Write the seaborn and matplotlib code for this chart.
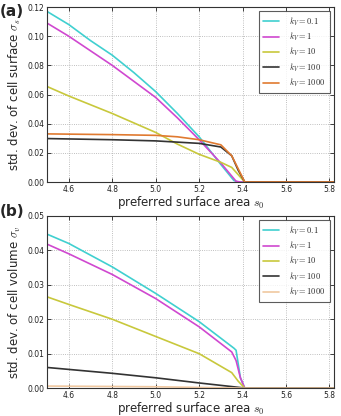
import numpy as np
import pandas as pd
import matplotlib
matplotlib.use("Agg")
import matplotlib.pyplot as plt
import seaborn as sns

sns.set_style("ticks")
plt.rcParams['font.family'] = ['DejaVu Sans']
plt.rcParams['mathtext.fontset'] = 'cm'

labels = ["$k_V=0.1$", "$k_V=1$", "$k_V=10$", "$k_V=100$", "$k_V=1000$"]
colors_a = ["#40d0d0", "#d048d0", "#c8c83c", "#333333", "#e07a30"]
colors_b = ["#40d0d0", "#d048d0", "#c8c83c", "#333333", "#f0c8a0"]

# Panel (a): std. dev. of cell surface
xa_01 = [4.5, 4.6, 4.7, 4.8, 4.9, 5.0, 5.1, 5.2, 5.3, 5.36, 5.38, 5.5, 5.82]
ya_01 = [0.117, 0.108, 0.097, 0.087, 0.075, 0.062, 0.047, 0.031, 0.012, 0.001, 0.0, 0.0, 0.0]
xa_1 = [4.5, 4.6, 4.7, 4.8, 4.9, 5.0, 5.1, 5.2, 5.3, 5.37, 5.39, 5.5, 5.82]
ya_1 = [0.109, 0.100, 0.090, 0.080, 0.069, 0.058, 0.044, 0.029, 0.013, 0.0005, 0.0, 0.0, 0.0]
xa_10 = [4.5, 4.6, 4.8, 5.0, 5.1, 5.2, 5.3, 5.35, 5.38, 5.41, 5.5, 5.82]
ya_10 = [0.0655, 0.059, 0.047, 0.034, 0.026, 0.019, 0.0135, 0.010, 0.005, 0.0, 0.0, 0.0]
xa_100 = [4.5, 4.8, 5.0, 5.2, 5.3, 5.35, 5.38, 5.41, 5.5, 5.82]
ya_100 = [0.0298, 0.0290, 0.0282, 0.0265, 0.024, 0.018, 0.008, 0.0, 0.0, 0.0]
xa_1000 = [4.5, 4.8, 5.0, 5.1, 5.2, 5.3, 5.35, 5.38, 5.41, 5.5, 5.82]
ya_1000 = [0.033, 0.0325, 0.032, 0.031, 0.029, 0.0255, 0.018, 0.009, 0.0, 0.0, 0.0]

# Panel (b): std. dev. of cell volume
xb_01 = [4.5, 4.6, 4.8, 5.0, 5.2, 5.36, 5.37, 5.39, 5.41, 5.5, 5.82]
yb_01 = [0.0447, 0.042, 0.0352, 0.0275, 0.0193, 0.0116, 0.011, 0.003, 0.0, 0.0, 0.0]
xb_1 = [4.5, 4.6, 4.8, 5.0, 5.2, 5.35, 5.37, 5.39, 5.41, 5.5, 5.82]
yb_1 = [0.0418, 0.039, 0.033, 0.026, 0.0178, 0.0105, 0.008, 0.003, 0.0, 0.0, 0.0]
xb_10 = [4.5, 4.6, 4.8, 5.0, 5.2, 5.35, 5.38, 5.41, 5.5, 5.82]
yb_10 = [0.0265, 0.0243, 0.020, 0.015, 0.010, 0.0045, 0.002, 0.0, 0.0, 0.0]
xb_100 = [4.5, 4.8, 5.0, 5.2, 5.4, 5.41, 5.5, 5.82]
yb_100 = [0.006, 0.0043, 0.003, 0.0015, 0.0001, 0.0, 0.0, 0.0]
xb_1000 = [4.5, 5.0, 5.4, 5.41, 5.5, 5.82]
yb_1000 = [0.0006, 0.0004, 0.0, 0.0, 0.0, 0.0]

panel_a = [(xa_01, ya_01), (xa_1, ya_1), (xa_10, ya_10), (xa_100, ya_100), (xa_1000, ya_1000)]
panel_b = [(xb_01, yb_01), (xb_1, yb_1), (xb_10, yb_10), (xb_100, yb_100), (xb_1000, yb_1000)]

fig = plt.figure(figsize=(3.41, 4.16), dpi=100)
ax_a = fig.add_axes([0.138, 0.5625, 0.841, 0.4205])
ax_b = fig.add_axes([0.138, 0.067, 0.841, 0.414])

def draw(ax, series, colors, ymax, yticks, ylabel, tag, tag_dy):
    for (x, y), c, lab in zip(series, colors, labels):
        df = pd.DataFrame({"x": x, "y": y})
        sns.lineplot(data=df, x="x", y="y", ax=ax, color=c, lw=1.2, label=lab)
    ax.set_xlim(4.5, 5.82)
    ax.set_ylim(0, ymax)
    ax.set_xticks([4.6, 4.8, 5.0, 5.2, 5.4, 5.6, 5.8])
    ax.set_yticks(yticks)
    ax.xaxis.set_major_formatter(matplotlib.ticker.FormatStrFormatter('%.1f'))
    ax.yaxis.set_major_formatter(matplotlib.ticker.FormatStrFormatter('%.2f'))
    ax.tick_params(direction='in', top=True, right=True, labelsize=5.5, length=3, width=0.6, pad=2, colors='#222222')
    ax.grid(True, ls=':', color='#aaaaaa', lw=0.6)
    for s in ax.spines.values():
        s.set_color('#333333'); s.set_linewidth(0.8)
    ax.set_xlabel("preferred surface area $s_0$", fontsize=8.5, labelpad=0)
    ax.set_ylabel(ylabel, fontsize=8.5, labelpad=3)
    leg = ax.legend(loc='upper right', fontsize=6, frameon=True, fancybox=False,
                    handlelength=2.0, borderpad=0.5, labelspacing=0.35, handletextpad=1.2,
                    borderaxespad=0.5)
    leg.get_frame().set_edgecolor('#333333')
    leg.get_frame().set_linewidth(0.8)
    fig.text(0.0, ax.get_position().y1 + tag_dy, tag, fontsize=11, fontweight='bold', va='center', ha='left')

draw(ax_a, panel_a, colors_a, 0.12, [0.0, 0.02, 0.04, 0.06, 0.08, 0.10, 0.12],
     "std. dev. of cell surface $\\sigma_s$", "(a)", -0.01)
draw(ax_b, panel_b, colors_b, 0.05, [0.0, 0.01, 0.02, 0.03, 0.04, 0.05],
     "std. dev. of cell volume $\\sigma_v$", "(b)", 0.01)

fig.savefig("out.png", dpi=100)
